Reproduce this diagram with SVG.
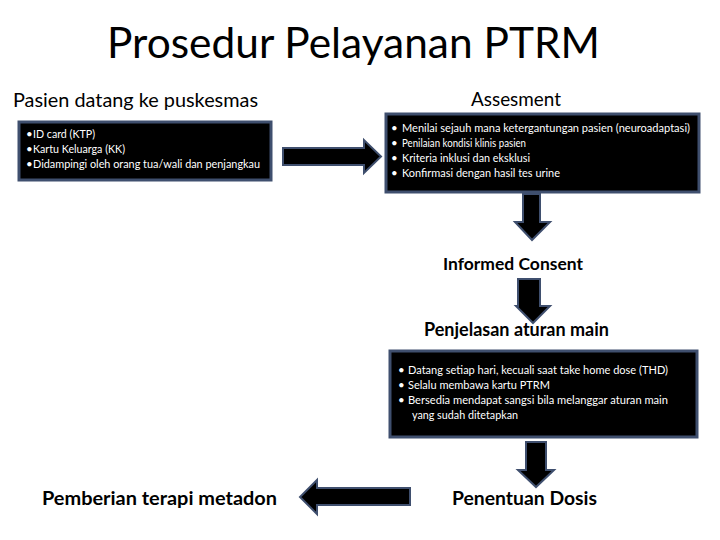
<svg xmlns="http://www.w3.org/2000/svg" width="720" height="540" viewBox="0 0 720 540">
<style>
.t{font-family:Lato,"Open Sans","Liberation Sans",sans-serif;fill:#000}
.h{font-family:Lato,"Open Sans","Liberation Sans",sans-serif;font-weight:bold;fill:#000}
.box{fill:#000;stroke:#3f4f6e;stroke-width:3}
.bt{font-family:Lato,"Open Sans","Liberation Sans",sans-serif;font-size:11.5px;fill:#fff}
.arr{fill:#000;stroke:#3f4f6e;stroke-width:2;stroke-linejoin:miter}
</style>
<rect width="720" height="540" fill="#fff"/>
<text class="t" x="107" y="58" font-size="43" textLength="493" lengthAdjust="spacingAndGlyphs">Prosedur Pelayanan PTRM</text>

<g id="pasien">
<text class="t" x="13" y="107" font-size="19" textLength="245" lengthAdjust="spacingAndGlyphs">Pasien datang ke puskesmas</text>
<rect class="box" x="19" y="122" width="252" height="58"/>
<text class="bt" x="26" y="138">•</text><text class="bt" x="33" y="138" textLength="62" lengthAdjust="spacingAndGlyphs">ID card (KTP)</text>
<text class="bt" x="26" y="153">•</text><text class="bt" x="33" y="153" textLength="92" lengthAdjust="spacingAndGlyphs">Kartu Keluarga (KK)</text>
<text class="bt" x="26" y="168">•</text><text class="bt" x="33" y="168" textLength="227" lengthAdjust="spacingAndGlyphs">Didampingi oleh orang tua/wali dan penjangkau</text>
</g>

<g id="assesment">
<text class="t" x="471" y="106" font-size="19" textLength="90" lengthAdjust="spacingAndGlyphs">Assesment</text>
<rect class="box" x="386" y="114" width="313" height="78"/>
<text class="bt" x="391" y="132">•</text><text class="bt" x="402" y="132" textLength="288" lengthAdjust="spacingAndGlyphs">Menilai sejauh mana ketergantungan pasien (neuroadaptasi)</text>
<text class="bt" x="391" y="147">•</text><text class="bt" x="402" y="147" textLength="124" lengthAdjust="spacingAndGlyphs">Penilaian kondisi klinis pasien</text>
<text class="bt" x="391" y="162">•</text><text class="bt" x="402" y="162" textLength="128" lengthAdjust="spacingAndGlyphs">Kriteria inklusi dan eksklusi</text>
<text class="bt" x="391" y="177">•</text><text class="bt" x="402" y="177" textLength="158" lengthAdjust="spacingAndGlyphs">Konfirmasi dengan hasil tes urine</text>
</g>

<g id="informed">
<text class="h" x="443" y="270" font-size="17" textLength="140" lengthAdjust="spacingAndGlyphs">Informed Consent</text>
</g>

<g id="penjelasan">
<text class="h" x="424" y="336" font-size="18" textLength="185" lengthAdjust="spacingAndGlyphs">Penjelasan aturan main</text>
<rect class="box" x="390" y="351" width="307" height="86"/>
<text class="bt" x="398" y="374">•</text><text class="bt" x="408" y="374" textLength="260" lengthAdjust="spacingAndGlyphs">Datang setiap hari, kecuali saat take home dose (THD)</text>
<text class="bt" x="398" y="389">•</text><text class="bt" x="408" y="389" textLength="142" lengthAdjust="spacingAndGlyphs">Selalu membawa kartu PTRM</text>
<text class="bt" x="398" y="404">•</text><text class="bt" x="408" y="404" textLength="260" lengthAdjust="spacingAndGlyphs">Bersedia mendapat sangsi bila melanggar aturan main</text>
<text class="bt" x="412" y="419" textLength="106" lengthAdjust="spacingAndGlyphs">yang sudah ditetapkan</text>
</g>

<g id="dosis">
<text class="h" x="452" y="505" font-size="18" textLength="145" lengthAdjust="spacingAndGlyphs">Penentuan Dosis</text>
</g>

<g id="metadon">
<text class="h" x="42" y="505" font-size="18" textLength="235" lengthAdjust="spacingAndGlyphs">Pemberian terapi metadon</text>
</g>

<g id="connectors">
<path class="arr" d="M283,148 H364 V140 L381,156.5 L364,173 V165 H283 Z"/>
<path class="arr" d="M523,194 H540 V222 H550 L532,240 L515,222 H523 Z"/>
<path class="arr" d="M518,279 H540 V306 H550 L533,323 L516,306 H518 Z"/>
<path class="arr" d="M526,442 H546 V470 H554 L536,487 L518,470 H526 Z"/>
<path class="arr" d="M410,488 H317 V480 L300,497 L317,514 V505 H410 Z"/>
</g>
</svg>
